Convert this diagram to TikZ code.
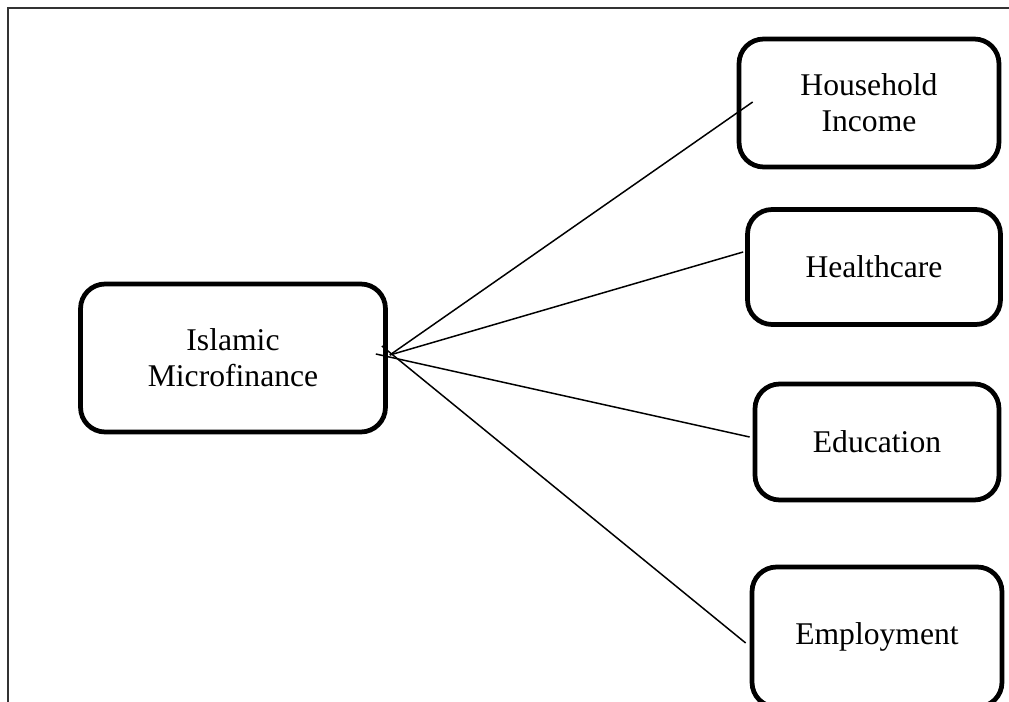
\documentclass[tikz,border=0pt]{standalone}
\usepackage{fontspec}
\setmainfont{Liberation Serif}
\usetikzlibrary{calc}

\begin{document}
\begin{tikzpicture}[x=0.02cm, y=-0.02cm,
    outcome/.style={draw, rounded corners=14pt, line width=2.7pt, align=center,
                    inner sep=0pt, font=\fontsize{18}{20.5}\selectfont},
    link/.style={line width=0.85pt}]
  \clip (0,0) rectangle (1009,702);
  \draw[line width=1pt, black!80] (8,702) -- (8,8) -- (1009,8);
  \node[outcome, minimum width=6.1cm, minimum height=2.96cm] (imf) at (233,358) {Islamic\\Microfinance};
  \node[outcome, minimum width=5.2cm, minimum height=2.56cm] (inc) at (869,103) {Household\\Income};
  \node[outcome, minimum width=5.06cm, minimum height=2.3cm] (hlth) at (874,267) {Healthcare};
  \node[outcome, minimum width=4.88cm, minimum height=2.32cm] (edu) at (877,442) {Education};
  \node[outcome, minimum width=5cm, minimum height=2.8cm] (emp) at (877,637) {Employment};
  \coordinate (hub) at ($(imf.east)+(2,-3)$);
  \draw[link] (hub) -- ($(inc.west)+(16,-1)$);
  \draw[link] (hub) -- ($(hlth.west)+(-2,-15)$);
  \draw[link] ($(hub)+(-14,-1)$) -- ($(edu.west)+(-3,-5)$);
  \draw[link] ($(hub)+(-8,-9)$) -- ($(emp.west)+(-4,6)$);
\end{tikzpicture}
\end{document}
